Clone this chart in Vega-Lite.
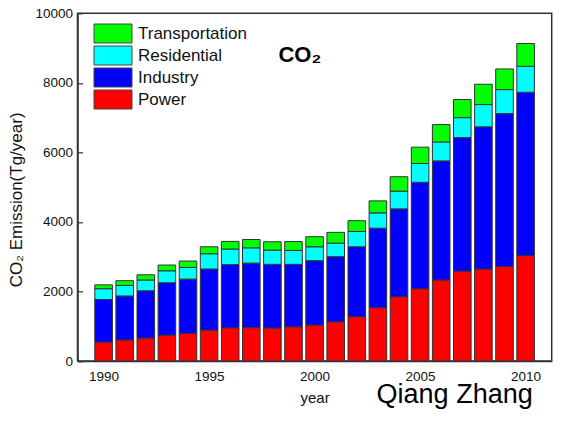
{
  "$schema": "https://vega.github.io/schema/vega-lite/v6.json",
  "width": 474.2,
  "height": 347.7,
  "autosize": {"type": "none"},
  "padding": {"left": 77.5, "top": 13.3, "right": 13.3, "bottom": 67},
  "background": "white",
  "config": {
    "font": "Liberation Sans",
    "view": {"stroke": "#333", "strokeWidth": 1.5},
    "axis": {
      "grid": false,
      "domainColor": "#333",
      "domainWidth": 1.5,
      "tickColor": "#333",
      "tickWidth": 1.2,
      "tickSize": -5,
      "labelColor": "#111",
      "labelFontSize": 13.5,
      "titleColor": "#111",
      "titleFontWeight": "normal"
    }
  },
  "title": {
    "text": "Qiang Zhang",
    "orient": "bottom",
    "anchor": "end",
    "frame": "group",
    "fontSize": 27,
    "fontWeight": "normal",
    "color": "#000",
    "baseline": "alphabetic",
    "dx": -19,
    "offset": -3
  },
  "datasets": {
    "emissions": [
      {"year": 1990, "sector": "Power", "emission": 545},
      {"year": 1990, "sector": "Industry", "emission": 1225},
      {"year": 1990, "sector": "Residential", "emission": 310},
      {"year": 1990, "sector": "Transportation", "emission": 110},
      {"year": 1991, "sector": "Power", "emission": 605},
      {"year": 1991, "sector": "Industry", "emission": 1265},
      {"year": 1991, "sector": "Residential", "emission": 305},
      {"year": 1991, "sector": "Transportation", "emission": 135},
      {"year": 1992, "sector": "Power", "emission": 660},
      {"year": 1992, "sector": "Industry", "emission": 1360},
      {"year": 1992, "sector": "Residential", "emission": 310},
      {"year": 1992, "sector": "Transportation", "emission": 150},
      {"year": 1993, "sector": "Power", "emission": 745},
      {"year": 1993, "sector": "Industry", "emission": 1505},
      {"year": 1993, "sector": "Residential", "emission": 345},
      {"year": 1993, "sector": "Transportation", "emission": 165},
      {"year": 1994, "sector": "Power", "emission": 795},
      {"year": 1994, "sector": "Industry", "emission": 1560},
      {"year": 1994, "sector": "Residential", "emission": 335},
      {"year": 1994, "sector": "Transportation", "emission": 185},
      {"year": 1995, "sector": "Power", "emission": 890},
      {"year": 1995, "sector": "Industry", "emission": 1755},
      {"year": 1995, "sector": "Residential", "emission": 440},
      {"year": 1995, "sector": "Transportation", "emission": 200},
      {"year": 1996, "sector": "Power", "emission": 955},
      {"year": 1996, "sector": "Industry", "emission": 1815},
      {"year": 1996, "sector": "Residential", "emission": 450},
      {"year": 1996, "sector": "Transportation", "emission": 220},
      {"year": 1997, "sector": "Power", "emission": 960},
      {"year": 1997, "sector": "Industry", "emission": 1855},
      {"year": 1997, "sector": "Residential", "emission": 440},
      {"year": 1997, "sector": "Transportation", "emission": 240},
      {"year": 1998, "sector": "Power", "emission": 950},
      {"year": 1998, "sector": "Industry", "emission": 1830},
      {"year": 1998, "sector": "Residential", "emission": 410},
      {"year": 1998, "sector": "Transportation", "emission": 240},
      {"year": 1999, "sector": "Power", "emission": 985},
      {"year": 1999, "sector": "Industry", "emission": 1795},
      {"year": 1999, "sector": "Residential", "emission": 400},
      {"year": 1999, "sector": "Transportation", "emission": 255},
      {"year": 2000, "sector": "Power", "emission": 1035},
      {"year": 2000, "sector": "Industry", "emission": 1850},
      {"year": 2000, "sector": "Residential", "emission": 400},
      {"year": 2000, "sector": "Transportation", "emission": 290},
      {"year": 2001, "sector": "Power", "emission": 1130},
      {"year": 2001, "sector": "Industry", "emission": 1870},
      {"year": 2001, "sector": "Residential", "emission": 390},
      {"year": 2001, "sector": "Transportation", "emission": 310},
      {"year": 2002, "sector": "Power", "emission": 1275},
      {"year": 2002, "sector": "Industry", "emission": 2010},
      {"year": 2002, "sector": "Residential", "emission": 440},
      {"year": 2002, "sector": "Transportation", "emission": 310},
      {"year": 2003, "sector": "Power", "emission": 1535},
      {"year": 2003, "sector": "Industry", "emission": 2285},
      {"year": 2003, "sector": "Residential", "emission": 440},
      {"year": 2003, "sector": "Transportation", "emission": 345},
      {"year": 2004, "sector": "Power", "emission": 1850},
      {"year": 2004, "sector": "Industry", "emission": 2525},
      {"year": 2004, "sector": "Residential", "emission": 510},
      {"year": 2004, "sector": "Transportation", "emission": 415},
      {"year": 2005, "sector": "Power", "emission": 2080},
      {"year": 2005, "sector": "Industry", "emission": 3060},
      {"year": 2005, "sector": "Residential", "emission": 540},
      {"year": 2005, "sector": "Transportation", "emission": 470},
      {"year": 2006, "sector": "Power", "emission": 2330},
      {"year": 2006, "sector": "Industry", "emission": 3425},
      {"year": 2006, "sector": "Residential", "emission": 545},
      {"year": 2006, "sector": "Transportation", "emission": 500},
      {"year": 2007, "sector": "Power", "emission": 2585},
      {"year": 2007, "sector": "Industry", "emission": 3840},
      {"year": 2007, "sector": "Residential", "emission": 575},
      {"year": 2007, "sector": "Transportation", "emission": 520},
      {"year": 2008, "sector": "Power", "emission": 2645},
      {"year": 2008, "sector": "Industry", "emission": 4090},
      {"year": 2008, "sector": "Residential", "emission": 640},
      {"year": 2008, "sector": "Transportation", "emission": 585},
      {"year": 2009, "sector": "Power", "emission": 2720},
      {"year": 2009, "sector": "Industry", "emission": 4395},
      {"year": 2009, "sector": "Residential", "emission": 690},
      {"year": 2009, "sector": "Transportation", "emission": 595},
      {"year": 2010, "sector": "Power", "emission": 3035},
      {"year": 2010, "sector": "Industry", "emission": 4695},
      {"year": 2010, "sector": "Residential", "emission": 745},
      {"year": 2010, "sector": "Transportation", "emission": 655}
    ]
  },
  "layer": [
    {
      "data": {"name": "emissions"},
      "transform": [
        {"calculate": "indexof(['Power', 'Industry', 'Residential', 'Transportation'], datum.sector)", "as": "stack_rank"}
      ],
      "mark": {"type": "bar", "width": 17.6, "stroke": "#333", "strokeWidth": 1},
      "encoding": {
        "x": {
          "field": "year",
          "type": "quantitative",
          "scale": {"domain": [1989, 2011], "nice": false, "zero": false},
          "axis": {
            "values": [1990, 1995, 2000, 2005, 2010],
            "format": "d",
            "title": "year",
            "titleFontSize": 15,
            "labelPadding": 13,
            "titlePadding": 8
          }
        },
        "y": {
          "field": "emission",
          "type": "quantitative",
          "stack": "zero",
          "scale": {"domain": [0, 10000], "nice": false},
          "axis": {
            "values": [0, 2000, 4000, 6000, 8000, 10000],
            "format": "d",
            "title": "CO₂ Emission(Tg/year)",
            "titleFontSize": 17,
            "titleY": 186,
            "labelPadding": 10,
            "titlePadding": 9
          }
        },
        "order": {"field": "stack_rank", "type": "quantitative", "sort": "ascending"},
        "color": {
          "field": "sector",
          "type": "nominal",
          "scale": {
            "domain": ["Power", "Industry", "Residential", "Transportation"],
            "range": ["#ff0000", "#0000ff", "#00ffff", "#00ff00"]
          },
          "legend": {
            "title": null,
            "values": ["Transportation", "Residential", "Industry", "Power"],
            "orient": "none",
            "legendX": 25.5,
            "legendY": 10.2,
            "padding": 0,
            "symbolType": "M-2,-1H2V1H-2Z",
            "symbolSize": 361,
            "symbolStrokeColor": "#444",
            "symbolStrokeWidth": 1,
            "symbolOpacity": 1,
            "labelFontSize": 17,
            "labelColor": "#111",
            "labelOffset": 15,
            "rowPadding": -2.5
          }
        }
      }
    },
    {
      "data": {"values": [{"label": "CO₂"}]},
      "mark": {"type": "text", "fontSize": 22, "fontWeight": "bold", "align": "center", "baseline": "alphabetic", "color": "#000"},
      "encoding": {
        "x": {"datum": 1999.3, "type": "quantitative"},
        "y": {"datum": 8600, "type": "quantitative"},
        "text": {"field": "label"}
      }
    }
  ]
}
